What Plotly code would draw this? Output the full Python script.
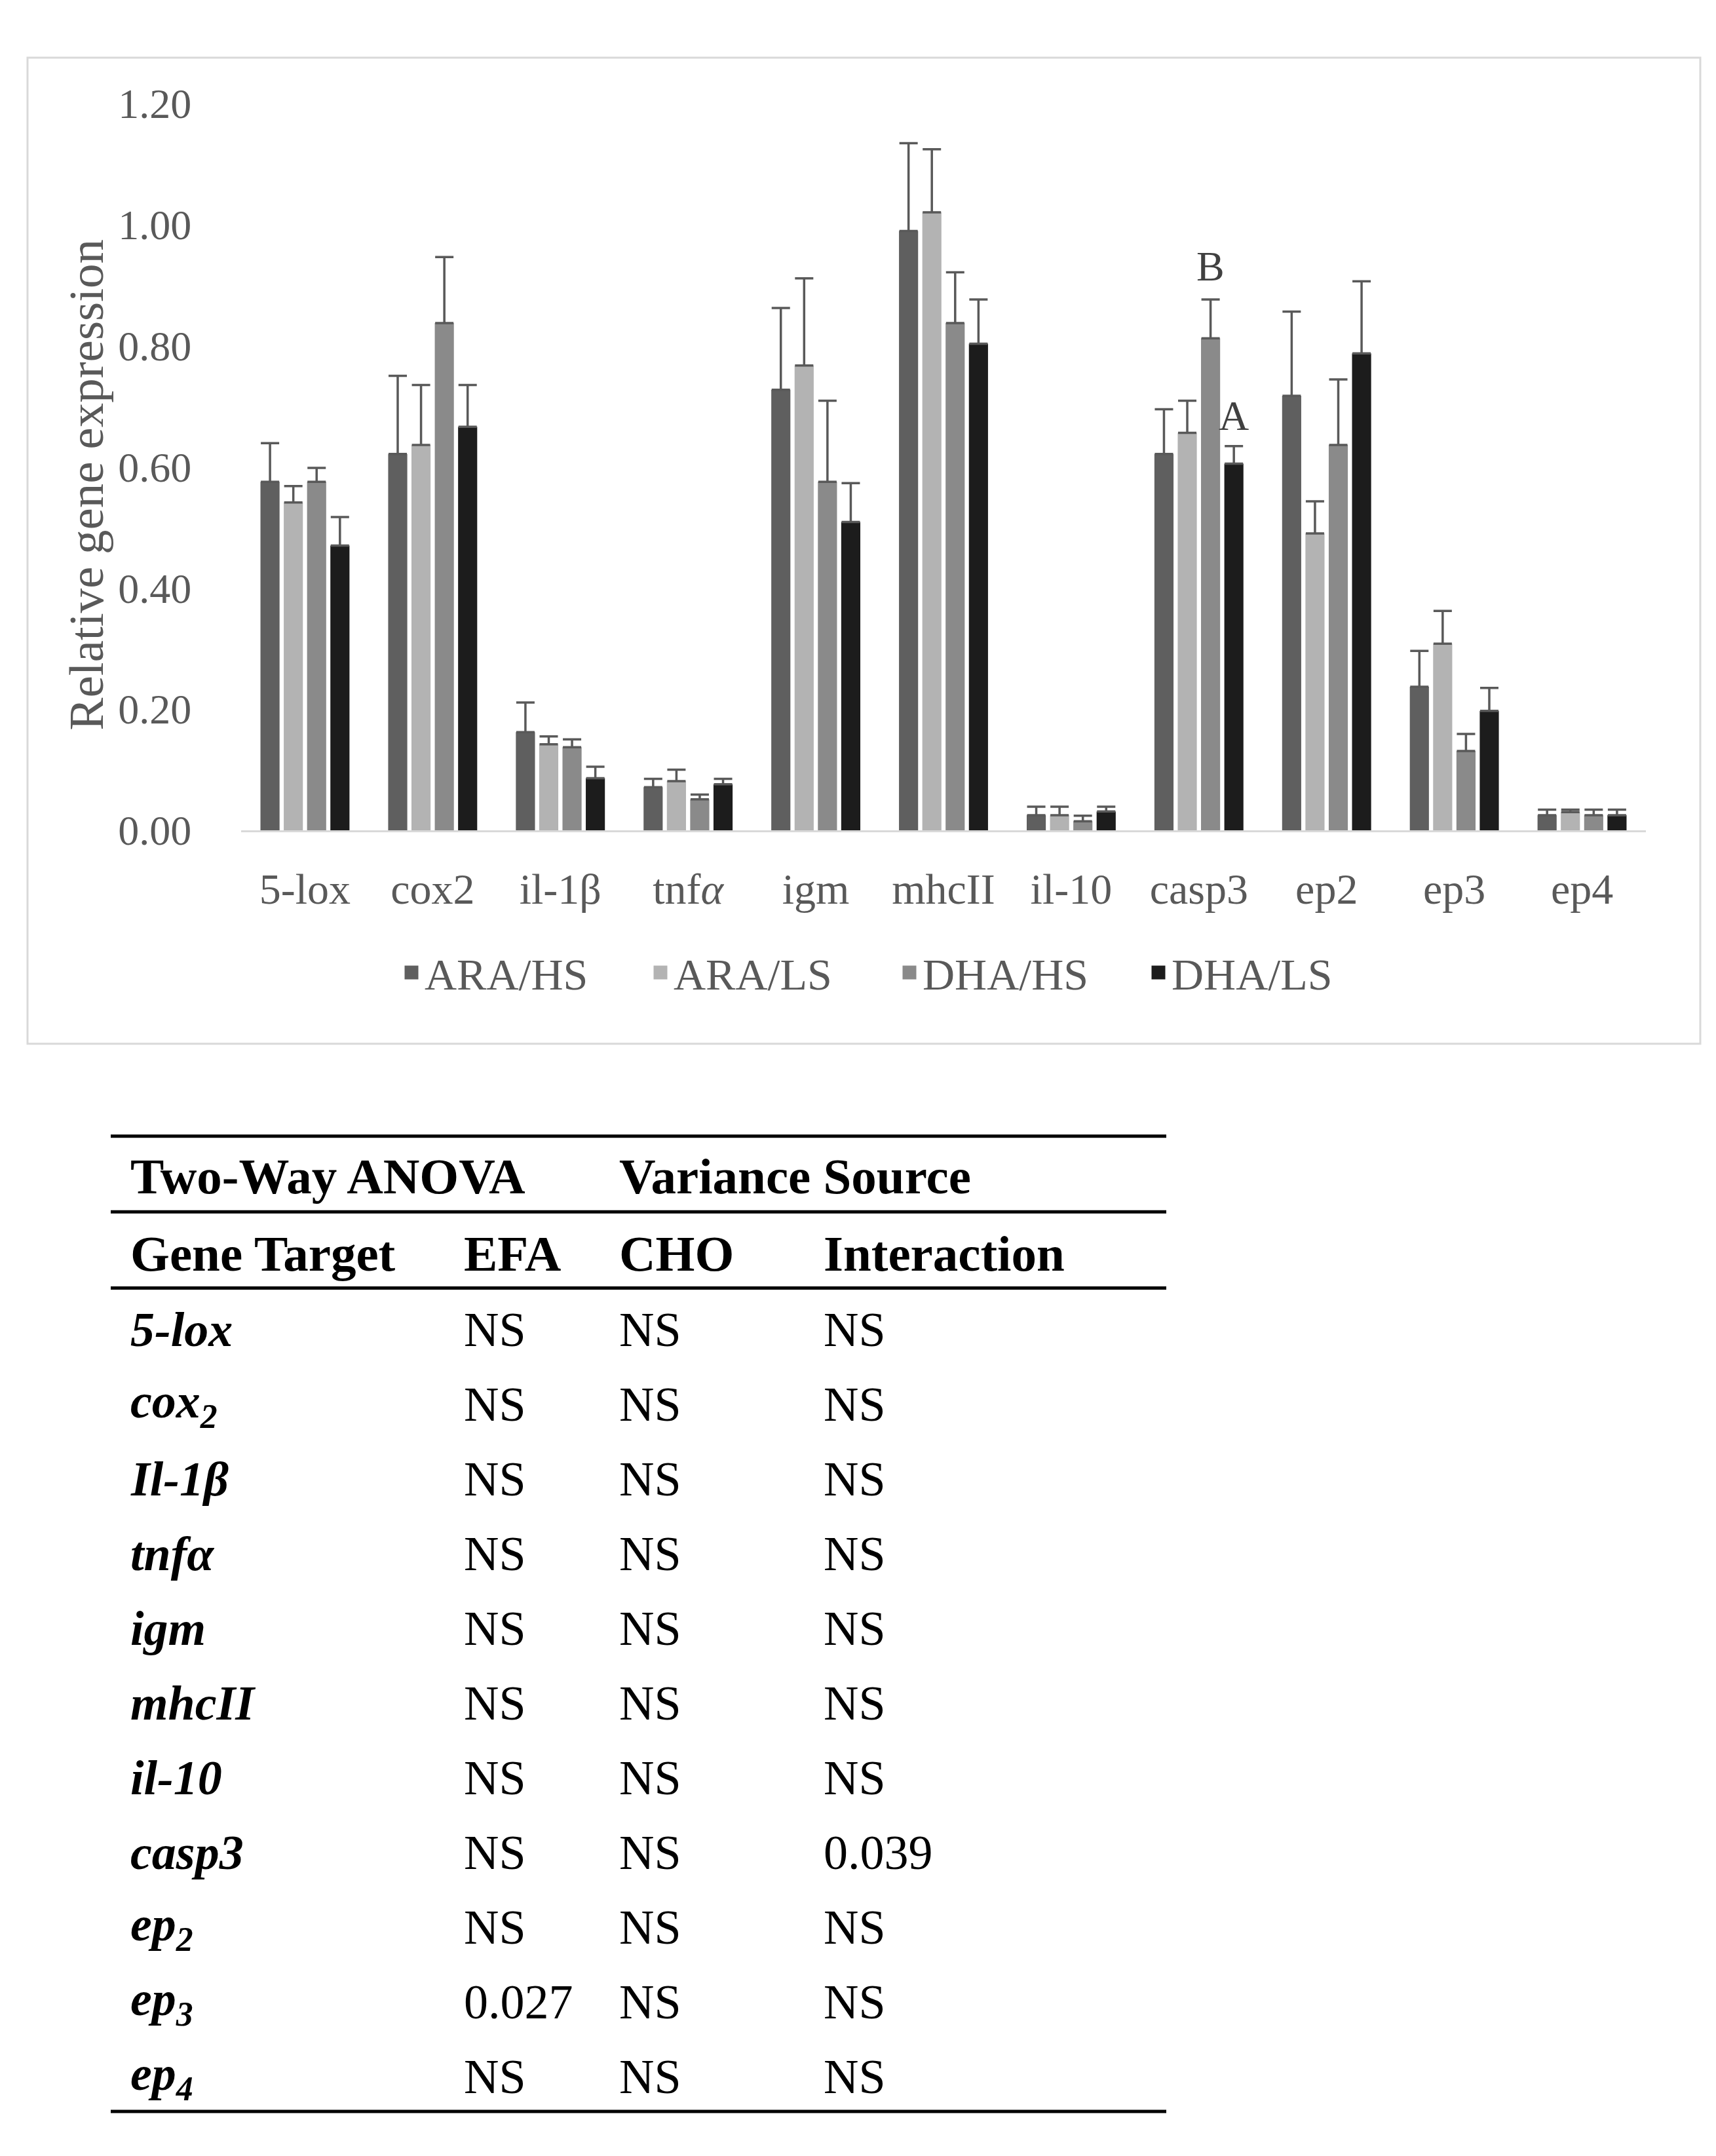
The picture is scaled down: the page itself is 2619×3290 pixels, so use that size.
import plotly.graph_objects as go

# ---------------- data ----------------
genes = ["5-lox", "cox2", "il-1β", "tnfα", "igm", "mhcII", "il-10", "casp3", "ep2", "ep3", "ep4"]
gene_ticktext = ["5-lox", "cox2", "il-1β", "tnf<i>α</i>", "igm", "mhcII", "il-10", "casp3", "ep2", "ep3", "ep4"]
groups = ["ARA/HS", "ARA/LS", "DHA/HS", "DHA/LS"]

ara_hs = [0.575, 0.621, 0.162, 0.071, 0.727, 0.989, 0.025, 0.621, 0.717, 0.237, 0.025]
ara_hs_err = [0.064, 0.129, 0.049, 0.014, 0.135, 0.145, 0.014, 0.074, 0.139, 0.059, 0.009]
ara_ls = [0.541, 0.636, 0.142, 0.081, 0.767, 1.020, 0.025, 0.656, 0.490, 0.308, 0.030]
ara_ls_err = [0.027, 0.099, 0.013, 0.019, 0.144, 0.104, 0.014, 0.053, 0.053, 0.054, 0.004]
dha_hs = [0.575, 0.837, 0.137, 0.051, 0.575, 0.837, 0.015, 0.812, 0.636, 0.131, 0.025]
dha_hs_err = [0.023, 0.109, 0.013, 0.008, 0.134, 0.084, 0.009, 0.064, 0.108, 0.028, 0.009]
dha_ls = [0.470, 0.666, 0.086, 0.076, 0.509, 0.803, 0.031, 0.605, 0.787, 0.197, 0.025]
dha_ls_err = [0.047, 0.069, 0.019, 0.009, 0.064, 0.073, 0.008, 0.029, 0.119, 0.038, 0.009]

y_ticks = [0.0, 0.2, 0.4, 0.6, 0.8, 1.0, 1.2]

# significance letters (casp3)
letter_gene = "casp3"
letters = ["B", "A"]
letter_values = [0.931, 0.684]

# ANOVA table
table_head1 = ["Two-Way ANOVA", "Variance Source"]
table_head2 = ["Gene Target", "EFA", "CHO", "Interaction"]
table_genes = ["5-lox", "cox<sub>2</sub>", "Il-1β", "tnfα", "igm", "mhcII", "il-10",
               "casp3", "ep<sub>2</sub>", "ep<sub>3</sub>", "ep<sub>4</sub>"]
table_efa = ["NS", "NS", "NS", "NS", "NS", "NS", "NS", "NS", "NS", "0.027", "NS"]
table_cho = ["NS", "NS", "NS", "NS", "NS", "NS", "NS", "NS", "NS", "NS", "NS"]
table_int = ["NS", "NS", "NS", "NS", "NS", "NS", "NS", "0.039", "NS", "NS", "NS"]

# ---------------- styling ----------------
W, H = 2619, 3290
colors = ["#5f5f5f", "#b3b3b3", "#8a8a8a", "#1c1c1c"]
FONT = "Liberation Serif"
GRAY = "#595959"


def py(p):  # pixel (from top) -> paper y
    return 1 - p / H


def px(p):  # pixel -> paper x
    return p / W


fig = go.Figure()
series = [(ara_hs, ara_hs_err), (ara_ls, ara_ls_err), (dha_hs, dha_hs_err), (dha_ls, dha_ls_err)]
for name, (vals, errs), col in zip(groups, series, colors):
    fig.add_trace(go.Bar(
        name=name, x=genes, y=vals, marker=dict(color=col, line=dict(width=0)),
        legendgroup=name, showlegend=False,
        error_y=dict(type="data", array=errs, arrayminus=[0] * len(errs), symmetric=False,
                     color=GRAY, thickness=3.5, width=14),
    ))
# legend entries with larger square swatches
for name, col in zip(groups, colors):
    fig.add_trace(go.Scatter(
        name=name, x=[None], y=[None], mode="markers", legendgroup=name, showlegend=True,
        marker=dict(symbol="square", size=16, color=col, line=dict(color=col, width=5)),
        hoverinfo="skip"))

annotations = []
# significance letters above casp3 DHA bars
slot_px = (1 - 0.27) * ((2504 - 360) / len(genes)) / 4
for k, (txt, val) in enumerate(zip(letters, letter_values)):
    annotations.append(dict(
        x=letter_gene, y=val, xref="x", yref="y", text=txt, showarrow=False,
        xshift=(k + 2 - 1.5) * slot_px, font=dict(family=FONT, size=64, color="#404040"),
        xanchor="center", yanchor="middle"))

# y axis title
annotations.append(dict(
    x=px(124), y=py(712), xref="paper", yref="paper", text="Relative gene expression",
    textangle=-90, showarrow=False, font=dict(family=FONT, size=75, color=GRAY),
    xanchor="center", yanchor="middle"))

# table text
TFONT = dict(family=FONT, size=74, color="#000000")
HFONT = dict(family=FONT, size=77, color="#000000")
col_x = [189, 698, 935, 1247]
head1_x = [189, 935]
for t, xx in zip(table_head1, head1_x):
    annotations.append(dict(x=px(xx), y=py(1791), xref="paper", yref="paper", text=f"<b>{t}</b>",
                            showarrow=False, xanchor="left", yanchor="middle", font=HFONT))
for t, xx in zip(table_head2, col_x):
    annotations.append(dict(x=px(xx), y=py(1911), xref="paper", yref="paper", text=f"<b>{t}</b>",
                            showarrow=False, xanchor="left", yanchor="middle", font=HFONT))
row_step = (3195 - 2030) / (len(table_genes) - 1)
for i, (g, e, c, it) in enumerate(zip(table_genes, table_efa, table_cho, table_int)):
    yy = py(2030 + i * row_step)
    cells = [f"<b><i>{g}</i></b>", e, c, it]
    for t, xx in zip(cells, col_x):
        annotations.append(dict(x=px(xx), y=yy, xref="paper", yref="paper", text=t,
                                showarrow=False, xanchor="left", yanchor="middle", font=TFONT))

shapes = [
    # chart border
    dict(type="rect", xref="paper", yref="paper", x0=px(34), x1=px(2587), y0=py(46), y1=py(1584),
         line=dict(color="#d9d9d9", width=3), fillcolor="rgba(0,0,0,0)", layer="below"),
]
for yy in [1728, 1846, 1965, 3249]:
    shapes.append(dict(type="line", xref="paper", yref="paper", x0=px(161), x1=px(1772),
                       y0=py(yy), y1=py(yy), line=dict(color="#000000", width=5)))

fig.update_layout(
    width=W, height=H, margin=dict(l=0, r=0, t=0, b=0),
    paper_bgcolor="white", plot_bgcolor="white",
    barmode="group", bargap=0.27, bargroupgap=0.18,
    font=dict(family=FONT, color=GRAY),
    xaxis=dict(domain=[px(360), px(2504)], type="category", tickvals=genes, ticktext=gene_ticktext,
               showline=True, linecolor="#d9d9d9", linewidth=3, showgrid=False, zeroline=False,
               ticks="outside", ticklen=30, tickcolor="rgba(0,0,0,0)",
               tickfont=dict(family=FONT, size=66, color=GRAY)),
    yaxis=dict(domain=[py(1251), py(117)], range=[0, 1.2], tickvals=y_ticks, tickformat=".2f",
               showline=False, showgrid=False, zeroline=False,
               ticks="outside", ticklen=62, tickcolor="rgba(0,0,0,0)",
               tickfont=dict(family=FONT, size=64, color=GRAY)),
    legend=dict(orientation="h", x=px(1360), xanchor="center", y=py(1473), yanchor="middle",
                font=dict(family=FONT, size=68, color=GRAY), traceorder="normal",
                entrywidth=335, entrywidthmode="pixels", itemwidth=30, bgcolor="rgba(0,0,0,0)"),
    annotations=annotations, shapes=shapes,
)

fig.write_html("out.html")
